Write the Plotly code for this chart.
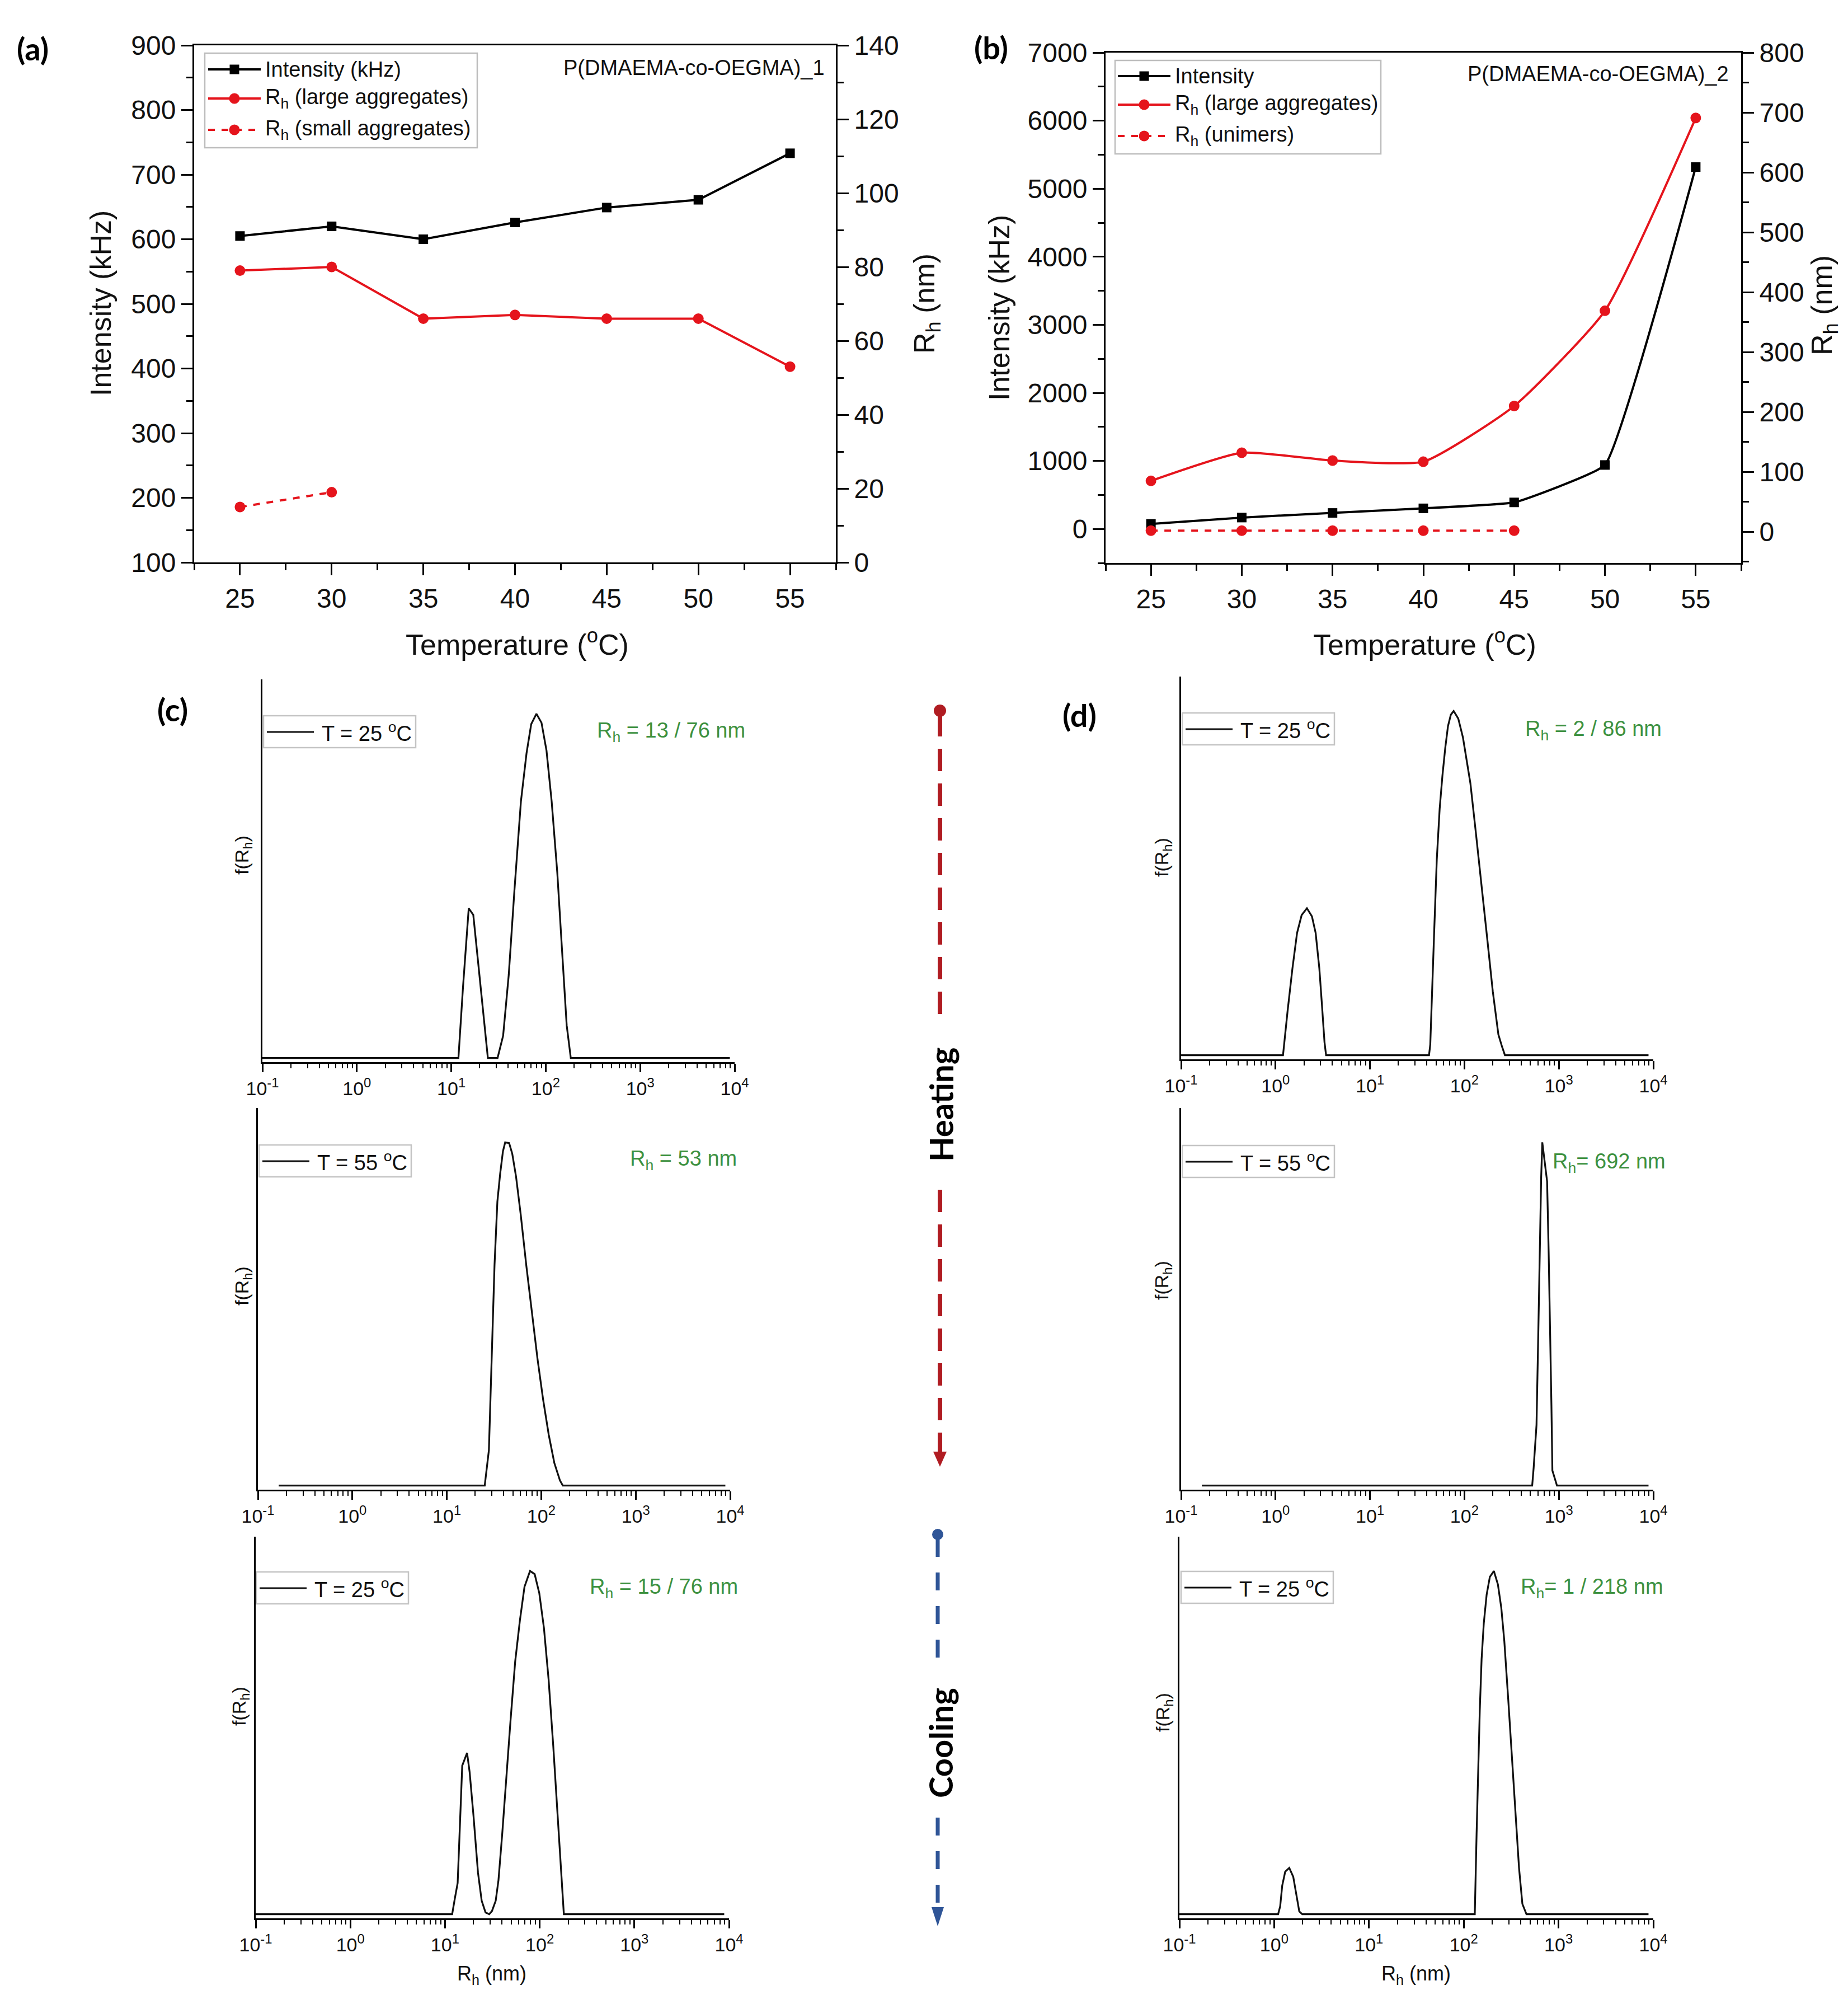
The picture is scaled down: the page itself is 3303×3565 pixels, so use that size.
import plotly.graph_objects as go

W, H = 3303, 3565


def px(x):
    return x / W


def py(y):
    return 1 - y / H


# ---------------- data: panels (a) and (b) ----------------
temps = [25, 30, 35, 40, 45, 50, 55]
a_intensity = [605, 620, 600, 626, 649, 661, 733]
a_rh_large = [79, 80, 66, 67, 66, 66, 53]
a_temps_small = [25, 30]
a_rh_small = [15, 19]

b_intensity = [74, 167, 235, 303, 390, 940, 5318]
b_rh_large = [85, 132, 119, 117, 210, 369, 691]
b_temps_unimer = [25, 30, 35, 40, 45]
b_rh_unimer = [2, 2, 2, 2, 2]

a_names = ["Intensity (kHz)", "R<sub>h</sub> (large aggregates)", "R<sub>h</sub> (small aggregates)"]
b_names = ["Intensity", "R<sub>h</sub> (large aggregates)", "R<sub>h</sub> (unimers)"]

# ---------------- data: size distributions (c), (d) ----------------
c_top_rh = [0.1, 11.9, 13.3, 15.3, 17.1, 20.2, 24.4, 30.9, 35.4, 40.6, 46.6, 54.6, 62.6, 70.2,
            79.7, 90.2, 101.9, 115.6, 132.6, 148.6, 166.7, 184.2, 8900]
c_top_f = [0, 0, 0.205, 0.435, 0.416, 0.22, 0, 0, 0.065, 0.242, 0.486, 0.745, 0.885, 0.970,
           1.0, 0.974, 0.893, 0.745, 0.538, 0.316, 0.095, 0, 0]

c_mid_rh = [0.166, 25.2, 27.9, 29.9, 32.0, 34.3, 36.7, 39.3, 41.5, 45.7, 49.3, 54.1, 60.6, 69.4,
            79.6, 91.3, 104.6, 120.0, 137.5, 157.7, 169.0, 8900]
c_mid_f = [0, 0, 0.103, 0.384, 0.642, 0.827, 0.908, 0.974, 1.0, 0.998, 0.967, 0.900, 0.790, 0.642,
           0.502, 0.369, 0.251, 0.148, 0.066, 0.015, 0, 0]

c_bot_rh = [0.1, 11.9, 12.7, 13.6, 14.6, 15.2, 17.1, 18.2, 20.0, 22.3, 24.4, 26.8, 29.3, 31.3,
            34.3, 36.7, 40.2, 44.0, 49.2, 55.1, 61.8, 69.1, 79.1, 88.5, 99.1, 110.9, 124.2,
            139.2, 155.7, 170.6, 180.0, 8900]
c_bot_f = [0, 0, 0.046, 0.091, 0.309, 0.433, 0.470, 0.414, 0.286, 0.121, 0.039, 0.005, 0, 0.009,
           0.039, 0.099, 0.234, 0.384, 0.564, 0.736, 0.856, 0.954, 1.0, 0.991, 0.935, 0.834,
           0.684, 0.489, 0.271, 0.084, 0, 0]

d_top_rh = [0.1, 1.20, 1.34, 1.51, 1.69, 1.89, 2.15, 2.43, 2.66, 2.91, 3.11, 3.30, 3.43,
            42.2, 43.5, 45.6, 47.7, 51.0, 54.7, 58.5, 62.7, 67.0, 71.8, 76.9, 86.1, 96.5,
            115.7, 132.6, 152.0, 174.2, 199.6, 228.9, 250.8, 268.5, 8900]
d_top_f = [0, 0, 0.127, 0.252, 0.355, 0.407, 0.427, 0.403, 0.355, 0.252, 0.141, 0.038, 0,
           0, 0.031, 0.178, 0.348, 0.569, 0.716, 0.812, 0.893, 0.956, 0.989, 1.0, 0.978, 0.923,
           0.790, 0.643, 0.495, 0.340, 0.186, 0.060, 0.024, 0, 0]

d_mid_rh = [0.166, 522, 541, 580, 607, 629, 650, 668, 705, 751, 780, 809, 834, 854, 914, 955, 8900]
d_mid_f = [0, 0, 0.052, 0.177, 0.458, 0.679, 0.900, 1.0, 0.952, 0.886, 0.679, 0.458, 0.236,
           0.044, 0.015, 0, 0]

d_bot_rh = [0.1, 1.10, 1.157, 1.215, 1.307, 1.442, 1.589, 1.710, 1.840, 1.980,
            130.8, 136.6, 142.1, 147.6, 154.3, 162.8, 174.4, 188.6, 207.9, 229.3, 248.9,
            267.9, 295.2, 322.7, 350.6, 383.1, 415.6, 458.9, 8900]
d_bot_f = [0, 0, 0.023, 0.083, 0.124, 0.135, 0.109, 0.060, 0.008, 0,
           0, 0.233, 0.420, 0.593, 0.743, 0.848, 0.931, 0.983, 1.0, 0.961, 0.893,
           0.796, 0.623, 0.458, 0.293, 0.135, 0.030, 0, 0]

dist_legends = ["T = 25 <sup>o</sup>C", "T = 55 <sup>o</sup>C", "T = 25 <sup>o</sup>C",
                "T = 25 <sup>o</sup>C", "T = 55 <sup>o</sup>C", "T = 25 <sup>o</sup>C"]
dist_labels = ["R<sub>h</sub> = 13 / 76 nm", "R<sub>h</sub> = 53 nm", "R<sub>h</sub> = 15 / 76 nm",
               "R<sub>h</sub> = 2 / 86 nm", "R<sub>h</sub>= 692 nm", "R<sub>h</sub>= 1 / 218 nm"]
log_tick_vals = [0.1, 1, 10, 100, 1000, 10000]
log_tick_text = ["10<sup>-1</sup>", "10<sup>0</sup>", "10<sup>1</sup>", "10<sup>2</sup>",
                 "10<sup>3</sup>", "10<sup>4</sup>"]

# ---------------- style ----------------
FONT = "Liberation Sans, Arial, sans-serif"
BOLD = "Lato, Open Sans, sans-serif"
RED = "#e5141c"
GREEN = "#3d9140"
HEAT = "#b01c22"
COOL = "#2f5597"

fig = go.Figure()

# panel (a)
fig.add_trace(go.Scatter(x=temps, y=a_intensity, mode="lines+markers", name=a_names[0],
                         line=dict(color="black", width=4),
                         marker=dict(symbol="square", size=17, color="black"),
                         xaxis="x", yaxis="y", showlegend=False))
fig.add_trace(go.Scatter(x=temps, y=a_rh_large, mode="lines+markers", name=a_names[1],
                         line=dict(color=RED, width=4), marker=dict(symbol="circle", size=19, color=RED),
                         xaxis="x", yaxis="y2", showlegend=False))
fig.add_trace(go.Scatter(x=a_temps_small, y=a_rh_small, mode="lines+markers", name=a_names[2],
                         line=dict(color=RED, width=4, dash="dash"),
                         marker=dict(symbol="circle", size=19, color=RED),
                         xaxis="x", yaxis="y2", showlegend=False))

# panel (b)
fig.add_trace(go.Scatter(x=temps, y=b_intensity, mode="lines+markers", name=b_names[0],
                         line=dict(color="black", width=4, shape="spline", smoothing=0.3),
                         marker=dict(symbol="square", size=17, color="black"),
                         xaxis="x2", yaxis="y3", showlegend=False))
fig.add_trace(go.Scatter(x=temps, y=b_rh_large, mode="lines+markers", name=b_names[1],
                         line=dict(color=RED, width=4, shape="spline", smoothing=0.5),
                         marker=dict(symbol="circle", size=19, color=RED),
                         xaxis="x2", yaxis="y4", showlegend=False))
fig.add_trace(go.Scatter(x=b_temps_unimer, y=b_rh_unimer, mode="lines+markers", name=b_names[2],
                         line=dict(color=RED, width=4, dash="dash"),
                         marker=dict(symbol="circle", size=19, color=RED),
                         xaxis="x2", yaxis="y4", showlegend=False))

common_x = dict(showline=True, linewidth=3, linecolor="black", showgrid=False, zeroline=False,
                automargin=False,
                ticks="outside", ticklen=20, tickwidth=3, tickcolor="black",
                tickfont=dict(size=48, color="#111", family=FONT))
common_y = dict(showline=True, linewidth=3, linecolor="black", showgrid=False, zeroline=False,
                automargin=False,
                ticks="outside", ticklen=20, tickwidth=3, tickcolor="black",
                tickfont=dict(size=48, color="#111", family=FONT))

layout = dict(
    width=W, height=H, autosize=False,
    margin=dict(l=0, r=0, t=0, b=0, autoexpand=False),
    paper_bgcolor="white", plot_bgcolor="white",
    font=dict(family=FONT, color="#111"),
    showlegend=False,
    xaxis=dict(domain=[px(339), px(1486)], range=[22.5, 57.5], anchor="y", mirror=True,
               tickmode="array", tickvals=temps,
               minor=dict(dtick=2.5, tick0=25, ticks="outside", ticklen=11, tickwidth=3,
                          tickcolor="black"), **common_x),
    yaxis=dict(domain=[py(997), py(73)], range=[100, 900], anchor="x", dtick=100, tick0=100,
               minor=dict(dtick=50, ticks="outside", ticklen=11, tickwidth=3, tickcolor="black"),
               **common_y),
    yaxis2=dict(overlaying="y", side="right", anchor="x", range=[0, 140], dtick=20, tick0=0,
                minor=dict(dtick=10, ticks="outside", ticklen=11, tickwidth=3, tickcolor="black"),
                **common_y),
    xaxis2=dict(domain=[px(1968), px(3104)], range=[22.5, 57.5], anchor="y3", mirror=True,
                tickmode="array", tickvals=temps,
                minor=dict(dtick=2.5, tick0=25, ticks="outside", ticklen=11, tickwidth=3,
                           tickcolor="black"), **common_x),
    yaxis3=dict(domain=[py(998), py(86)], range=[-500, 7000], anchor="x2", dtick=1000, tick0=0,
                minor=dict(dtick=500, ticks="outside", ticklen=11, tickwidth=3, tickcolor="black"),
                **common_y),
    yaxis4=dict(overlaying="y3", side="right", anchor="x2", range=[-52, 800], dtick=100, tick0=0,
                minor=dict(dtick=50, ticks="outside", ticklen=11, tickwidth=3, tickcolor="black"),
                **common_y),
)

annotations = []
shapes = []


def ann(text, x, y, size, angle=0, color="#111", family=FONT, xanchor="center"):
    annotations.append(dict(text=text, x=px(x), y=py(y), xref="paper", yref="paper",
                            xanchor=xanchor, yanchor="middle", showarrow=False, textangle=angle,
                            font=dict(size=size, color=color, family=family)))


def legend_box(x0, y0, x1, y1):
    shapes.append(dict(type="rect", xref="paper", yref="paper", x0=px(x0), x1=px(x1),
                       y0=py(y1), y1=py(y0), line=dict(color="#bdbdbd", width=2.5),
                       fillcolor="white", layer="below"))


def legend_item(x0, x1, y, color, dash, symbol, text, size=38):
    shapes.append(dict(type="line", xref="paper", yref="paper", x0=px(x0), x1=px(x1),
                       y0=py(y), y1=py(y), line=dict(color=color, width=4, dash=dash)))
    cx = (x0 + x1) / 2
    if symbol == "square":
        r = 8.5
        shapes.append(dict(type="rect", xref="paper", yref="paper", x0=px(cx - r), x1=px(cx + r),
                           y0=py(y + r), y1=py(y - r), fillcolor=color, line=dict(width=0)))
    else:
        r = 9.5
        shapes.append(dict(type="circle", xref="paper", yref="paper", x0=px(cx - r),
                           x1=px(cx + r), y0=py(y + r), y1=py(y - r), fillcolor=color,
                           line=dict(width=0)))
    ann(text, x1 + 6, y, size, xanchor="left")


# legends of (a) and (b)
legend_box(358, 87, 845, 256)
legend_item(364, 458, 116, "black", "solid", "square", a_names[0])
legend_item(364, 458, 168, RED, "solid", "circle", a_names[1])
legend_item(364, 458, 224, RED, "dash", "circle", a_names[2])

legend_box(1985, 100, 2460, 267)
legend_item(1990, 2084, 128, "black", "solid", "square", b_names[0])
legend_item(1990, 2084, 179, RED, "solid", "circle", b_names[1])
legend_item(1990, 2084, 235, RED, "dash", "circle", b_names[2])

# small distribution panels
boxes = [(461, 1305, 1206, 1890), (453, 1297, 1972, 2654), (449, 1295, 2738, 3420),
         (2103, 2947, 1201, 1885), (2103, 2947, 1972, 2654), (2100, 2947, 2738, 3420)]
legend_pos = [(463, 1271), (455, 2038), (450, 2801), (2105, 1266), (2105, 2039), (2103, 2800)]
label_pos = [(1326, 1300), (1311, 2065), (1313, 2830), (2964, 1297), (2971, 2070), (2967, 2830)]
frh_pos = [(426, 1520), (426, 2290), (421, 3041), (2070, 1524), (2070, 2280), (2072, 3052)]
dist_x = [c_top_rh, c_mid_rh, c_bot_rh, d_top_rh, d_mid_rh, d_bot_rh]
dist_y = [c_top_f, c_mid_f, c_bot_f, d_top_f, d_mid_f, d_bot_f]

minor_vals = [k * 10 ** n for n in range(-1, 4) for k in range(2, 10)]

for i in range(6):
    xa = f"x{i + 3}"
    ya = f"y{i + 5}"
    fig.add_trace(go.Scatter(x=dist_x[i], y=dist_y[i], mode="lines", name=dist_legends[i],
                             line=dict(color="#111", width=3.2), xaxis=xa, yaxis=ya,
                             showlegend=False))
    x0, x1, y0, y1 = boxes[i]
    layout[f"xaxis{i + 3}"] = dict(
        domain=[px(x0), px(x1)], type="log", range=[-1, 4], anchor=ya, automargin=False,
        showline=True, linewidth=3, linecolor="black", showgrid=False, zeroline=False,
        tickmode="array", tickvals=log_tick_vals, ticktext=log_tick_text,
        ticks="outside", ticklen=15, tickwidth=2.5, tickcolor="black",
        tickfont=dict(size=34, family=FONT, color="#111"),
        minor=dict(tickmode="array", tickvals=minor_vals, ticks="outside", ticklen=8,
                   tickwidth=2, tickcolor="black"))
    layout[f"yaxis{i + 5}"] = dict(
        domain=[py(y1), py(y0)], range=[-0.012, 1.10], anchor=xa, automargin=False,
        showline=True, linewidth=3, linecolor="black", showgrid=False, zeroline=False,
        showticklabels=False, ticks="")
    lx, ly = legend_pos[i]
    shapes.append(dict(type="rect", xref="paper", yref="paper", x0=px(lx), x1=px(lx + 272),
                       y0=py(ly + 57), y1=py(ly), line=dict(color="#c4c4c4", width=2.5),
                       fillcolor="white", layer="below"))
    shapes.append(dict(type="line", xref="paper", yref="paper", x0=px(lx + 6), x1=px(lx + 90),
                       y0=py(ly + 29), y1=py(ly + 29), line=dict(color="#111", width=3.2)))
    ann(dist_legends[i], lx + 102, ly + 29, 38, xanchor="left")
    gx, gy = label_pos[i]
    ann(dist_labels[i], gx, gy, 38, color=GREEN, xanchor="right")
    fx, fy = frh_pos[i]
    ann("f(R<sub>h</sub>)", fx, fy, 34, -90)

for cx in (871, 2523):
    ann("R<sub>h</sub> (nm)", cx, 3521, 36)

ann("Intensity (kHz)", 172, 534, 52, -90)
ann("Intensity (kHz)", 1778, 542, 52, -90)
ann("R<sub>h</sub> (nm)", 1648, 535, 52, -90)
ann("R<sub>h</sub> (nm)", 3252, 538, 52, -90)
ann("Temperature (<sup>o</sup>C)", 916, 1140, 52)
ann("Temperature (<sup>o</sup>C)", 2538, 1140, 52)
ann("P(DMAEMA-co-OEGMA)_1", 1468, 113, 38, xanchor="right")
ann("P(DMAEMA-co-OEGMA)_2", 3084, 124, 38, xanchor="right")
ann("<b>(a)</b>", 50, 79, 56, family=BOLD, color="black")
ann("<b>(b)</b>", 1763, 77, 56, family=BOLD, color="black")
ann("<b>(c)</b>", 300, 1259, 56, family=BOLD, color="black")
ann("<b>(d)</b>", 1921, 1270, 56, family=BOLD, color="black")
ann("<b>Heating</b>", 1673, 1966, 58, -90, family=BOLD, color="black")
ann("<b>Cooling</b>", 1672, 3107, 58, -90, family=BOLD, color="black")


# heating / cooling arrows
def vseg(x, ya, yb, color, width, dash):
    shapes.append(dict(type="line", xref="paper", yref="paper", x0=px(x), x1=px(x),
                       y0=py(ya), y1=py(yb), line=dict(color=color, width=width, dash=dash)))


def dot(x, y, r, color):
    shapes.append(dict(type="circle", xref="paper", yref="paper", x0=px(x - r), x1=px(x + r),
                       y0=py(y + r), y1=py(y - r), fillcolor=color, line=dict(width=0)))


def head(x, ytop, ytip, hw, color):
    path = (f"M {px(x - hw)},{py(ytop)} L {px(x + hw)},{py(ytop)} "
            f"L {px(x)},{py(ytip)} Z")
    shapes.append(dict(type="path", xref="paper", yref="paper", path=path, fillcolor=color,
                       line=dict(width=0)))


dot(1672, 1262, 11, HEAT)
vseg(1672, 1268, 1804, HEAT, 8, "40px,22px")
vseg(1672, 2118, 2592, HEAT, 8, "40px,22px")
head(1672, 2586, 2613, 12, HEAT)

dot(1668, 2734, 10, COOL)
vseg(1668, 2742, 2954, COOL, 7, "32px,28px")
vseg(1668, 3240, 3392, COOL, 7, "32px,28px")
head(1668, 3400, 3434, 11, COOL)

layout["annotations"] = annotations
layout["shapes"] = shapes

fig.update_layout(**layout)
fig.write_html("out.html")
